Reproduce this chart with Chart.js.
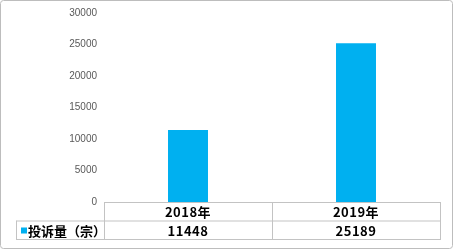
<!DOCTYPE html>
<html>
<head>
<meta charset="utf-8">
<script src="https://cdn.jsdelivr.net/npm/chart.js@4/dist/chart.umd.min.js"></script>
<style>
  html, body { margin: 0; padding: 0; background: #fff; }
  #wrap { width: 453px; height: 249px; position: relative; }
</style>
</head>
<body>
<div id="wrap"><canvas id="myChart" width="453" height="249"></canvas></div>
<script>
const years = ["2018年", "2019年"];
const seriesName = "投诉量（宗）";
const complaints = [11448, 25189];
const yTicks = [0, 5000, 10000, 15000, 20000, 25000, 30000];

const CJK = '"Noto Sans CJK JP", "Noto Sans CJK SC", sans-serif';

// draws the data table under the plot and the rounded outer frame
const dataTable = {
  id: "dataTable",
  afterDraw(chart) {
    const ctx = chart.ctx;
    const x = chart.scales.x;
    const area = chart.chartArea;
    const colW = (area.right - area.left) / years.length;
    const top = area.bottom;
    const rowH = 18.5;
    const legendLeft = 16.5;

    ctx.save();
    ctx.strokeStyle = "#c3c3c3";
    ctx.lineWidth = 1;
    ctx.beginPath();
    ctx.moveTo(area.left, top + 0.5); ctx.lineTo(area.right, top + 0.5);
    ctx.moveTo(legendLeft, top + rowH + 0.5); ctx.lineTo(area.right, top + rowH + 0.5);
    ctx.moveTo(legendLeft, top + 2 * rowH + 0.5); ctx.lineTo(area.right, top + 2 * rowH + 0.5);
    ctx.moveTo(legendLeft, top + rowH); ctx.lineTo(legendLeft, top + 2 * rowH + 1);
    for (let i = 0; i <= years.length; i++) {
      const lx = Math.round(area.left + i * colW) + 0.5;
      ctx.moveTo(lx, top); ctx.lineTo(lx, top + 2 * rowH + 1);
    }
    ctx.stroke();

    ctx.fillStyle = "#000";
    ctx.font = "bold 13px " + CJK;
    ctx.textAlign = "center";
    ctx.textBaseline = "middle";
    ctx.letterSpacing = "0.5px";
    years.forEach((y, i) => {
      const cx = x.getPixelForValue(i);
      ctx.fillText(y, cx, top + rowH / 2 + 1);
      ctx.fillText(String(complaints[i]), cx, top + rowH * 1.5 + 1);
    });

    // legend key
    ctx.fillStyle = "#00b0f0";
    ctx.fillRect(21, top + rowH + 7, 6, 6);
    ctx.fillStyle = "#000";
    ctx.textAlign = "left";
    ctx.letterSpacing = "0px";
    ctx.fillText(seriesName, 28, top + rowH * 1.5 + 1);

    // outer frame
    ctx.strokeStyle = "#bdbdbd";
    ctx.beginPath();
    ctx.roundRect(0.5, 0.5, chart.width - 1, chart.height - 1, 3);
    ctx.stroke();
    ctx.restore();
  }
};

const ctx = document.getElementById("myChart").getContext("2d");
const myChart = new Chart(ctx, {
  type: "bar",
  data: {
    labels: years,
    datasets: [
      {
        label: seriesName,
        data: complaints,
        backgroundColor: "#00b0f0",
        barPercentage: 0.238,
        categoryPercentage: 1,
      },
    ],
  },
  options: {
    responsive: false,
    animation: false,
    layout: { padding: { left: 0, right: 13, top: 13, bottom: 47 } },
    plugins: { legend: { display: false }, tooltip: { enabled: false } },
    scales: {
      x: { display: false },
      y: {
        min: 0,
        max: 30000,
        afterBuildTicks: (s) => { s.ticks = yTicks.map((v) => ({ value: v })); },
        afterFit: (s) => { s.width = 104; },
        grid: { display: false, drawTicks: false },
        border: { display: false },
        ticks: {
          color: "#595959",
          padding: 7,
          font: { size: 10, family: "Liberation Sans, sans-serif" },
          callback: (v) => String(v),
        },
      },
    },
  },
  plugins: [dataTable],
});
</script>
</body>
</html>
